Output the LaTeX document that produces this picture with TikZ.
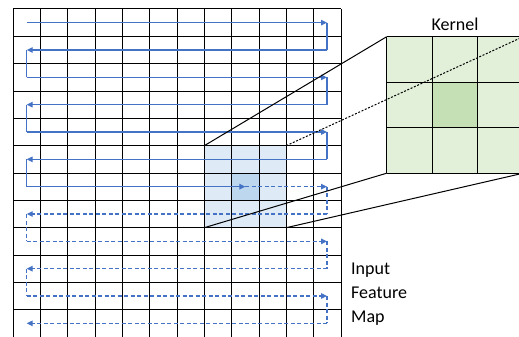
\documentclass[tikz,border=0pt]{standalone}
\usepackage{fontspec}
\setmainfont{Carlito}
\usetikzlibrary{arrows.meta}
\definecolor{arrowblue}{HTML}{4472C4}
\definecolor{selfill}{HTML}{DEEBF7}
\definecolor{selcenter}{HTML}{BDD7EE}
\definecolor{kfill}{HTML}{E2F0D9}
\definecolor{kcenter}{HTML}{C5E0B4}
\begin{document}
\begin{tikzpicture}[x=1pt,y=-1pt,
  gridline/.style={black, line width=1pt},
  scan/.style={arrowblue, line width=1.2pt},
  scanarrow/.style={scan, -{Triangle[length=6pt,width=5.5pt]}},
  scandash/.style={dash pattern=on 4pt off 2.5pt},
  link/.style={black, line width=1pt},
  dotlink/.style={link, dash pattern=on 2pt off 1.6pt},
  caption/.style={font=\fontsize{18}{24}\selectfont, inner sep=0pt, text=black},
  box/.style={inner sep=0pt, outer sep=0pt}
]
\useasboundingbox (0,0) rectangle (519,337);
% selected 3x3 window on the input map
\node[box, fill=selfill, minimum width=82, minimum height=82] (sel) at (245.33,186.67) {};
\node[box, fill=selcenter, minimum width=27.33, minimum height=27.33] (selc) at (245.33,186.67) {};
% input feature map grid
\foreach \i in {0,...,12} {
  \draw[gridline] ({13+\i*328/12},9) -- ({13+\i*328/12},337);
  \draw[gridline] (13,{9+\i*328/12}) -- (341,{9+\i*328/12});
}
% scan path coordinates
\foreach \i in {1,...,12} {
  \coordinate (L\i) at (26.7,{9+(\i-0.5)*328/12});
  \coordinate (R\i) at (327,{9+(\i-0.5)*328/12});
}
\coordinate (C7) at (245.33,{9+6.5*328/12});
% solid part
\foreach \i/\j in {1/2,3/4,5/6} {
  \draw[scanarrow] (L\i) -- (R\i);
  \draw[scan] (R\i) -- (R\j);
  \draw[scanarrow] (R\j) -- (L\j);
}
\foreach \j/\k in {2/3,4/5,6/7} {
  \draw[scan] (L\j) -- (L\k);
}
\draw[scanarrow] (L7) -- (C7);
% dashed part
\draw[scanarrow, scandash] (C7) -- (R7);
\draw[scan, scandash] (R7) -- (R8);
\draw[scanarrow, scandash] (R8) -- (L8);
\draw[scan, scandash] (L8) -- (L9);
\draw[scanarrow, scandash] (L9) -- (R9);
\draw[scan, scandash] (R9) -- (R10);
\draw[scanarrow, scandash] (R10) -- (L10);
\draw[scan, scandash] (L10) -- (L11);
\draw[scanarrow, scandash] (L11) -- (R11);
\draw[scan, scandash] (R11) -- (R12);
\draw[scanarrow, scandash] (R12) -- (L12);
% kernel
\node[box, fill=kfill, minimum width=136.5, minimum height=136.5] (kernel) at (454.95,104.95) {};
\node[box, fill=kcenter, minimum width=45.5, minimum height=45.5] (kc) at (454.95,104.95) {};
\foreach \i in {0,...,3} {
  \draw[gridline] ({386.7+\i*45.5},36.7) -- ({386.7+\i*45.5},173.2);
  \draw[gridline] (386.7,{36.7+\i*45.5}) -- (523.2,{36.7+\i*45.5});
}
% projection lines
\draw[link] (sel.north west) -- (kernel.north west);
\draw[link] (sel.south west) -- (kernel.south west);
\draw[link] (sel.south east) -- (kernel.south east);
\draw[dotlink] (sel.north east) -- (kernel.north east);
% labels
\node[caption, anchor=base] (klabel) at (454.95,30.5) {Kernel};
\node[caption, anchor=base west] (t1) at (351,274.3) {Input};
\node[caption, anchor=base west] (t2) at (351,298.3) {Feature};
\node[caption, anchor=base west] (t3) at (351,322.3) {Map};
\end{tikzpicture}
\end{document}
